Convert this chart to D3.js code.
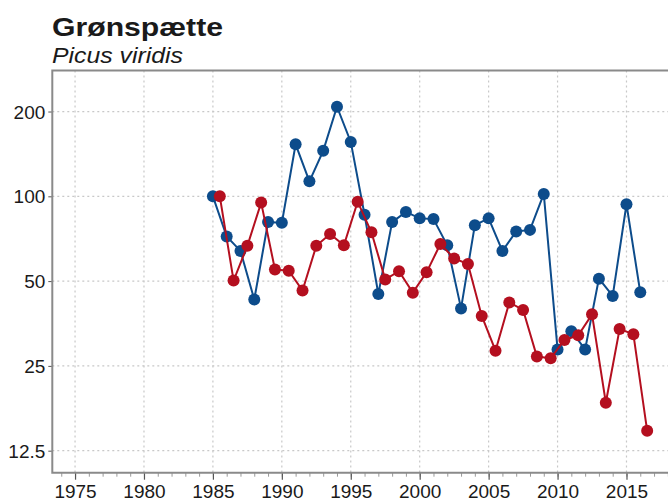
<!DOCTYPE html>
<html>
<head>
<meta charset="utf-8">
<script src="https://cdn.jsdelivr.net/npm/d3@7"></script>
<style>
  body { margin: 0; background: #fff; }
  text { font-family: "Liberation Sans", Arial, sans-serif; fill: #1a1a1a; }
</style>
</head>
<body>
<svg></svg>
<script>
const width = 668
const height = 502

// data
const years = d3.range(1985, 2017)
const blueValues = [100, 72, 64, 43, 81, 80.5, 153, 113, 145, 208, 156, 86, 45, 81, 88, 83.5,
                    83, 67, 40, 79, 83.5, 64, 75, 76, 102, 28.6, 33.2, 28.6, 51, 44.3, 93.7, 45.6]
const redValues = [100, 50.2, 66.7, 95, 55, 54.4, 46.3, 66.7, 73.5, 67, 95.7, 74.5, 50.7, 54.2, 45.5, 53.7,
                   67.7, 60.2, 57.5, 37.6, 28.3, 42, 39.5, 27, 26.6, 30.9, 32.1, 38.1, 18.5, 33.8, 32.4, 14.7]
const redShift = 0.5   // red series is plotted half a year later
const xTicks = [1975, 1980, 1985, 1990, 1995, 2000, 2005, 2010, 2015]
const yTicks = [12.5, 25, 50, 100, 200]
const yTickLabels = ['12.5', '25', '50', '100', '200']

const plotLeft = 52.3, plotTop = 70.5, plotBottom = 472.7, plotRight = 703

let svg = d3.select('svg').attr('width', width).attr('height', height)

let xScale = d3.scaleLinear().domain([1973.35, 2020.55]).range([plotLeft, plotRight])
let yScale = d3.scaleLog().domain([10.44, 279.7]).range([plotBottom, plotTop])

// grid
svg.append('g').selectAll('line')
    .data(xTicks)
    .enter()
    .append('line')
    .attr('x1', d => xScale(d)).attr('x2', d => xScale(d))
    .attr('y1', plotTop).attr('y2', plotBottom)
    .attr('stroke', '#c8c8c8').attr('stroke-width', 1.2).attr('stroke-dasharray', '2,3')

svg.append('g').selectAll('line')
    .data(yTicks)
    .enter()
    .append('line')
    .attr('x1', plotLeft).attr('x2', plotRight)
    .attr('y1', d => yScale(d)).attr('y2', d => yScale(d))
    .attr('stroke', '#c8c8c8').attr('stroke-width', 1.2).attr('stroke-dasharray', '2,3')

// axes
let xAxis = d3.axisBottom(xScale).tickValues(xTicks).tickSize(7).tickPadding(5).tickFormat(d3.format('d'))
let xMinor = d3.axisBottom(xScale).tickValues(d3.range(1974, 2021)).tickSize(4).tickFormat('')
let yAxis = d3.axisLeft(yScale).tickValues(yTicks).tickSize(4).tickPadding(3)
    .tickFormat((d, i) => yTickLabels[i])

svg.append('g').attr('transform', 'translate(0,' + plotBottom + ')').call(xMinor)
    .call(g => g.select('.domain').remove())
    .call(g => g.selectAll('line').attr('stroke', '#999'))

let gx = svg.append('g').attr('id', 'x-axis').attr('transform', 'translate(0,' + plotBottom + ')').call(xAxis)
gx.select('.domain').remove()
gx.selectAll('line').attr('stroke', '#555').attr('stroke-width', 1.2)
gx.selectAll('text').style('font-size', '19px').attr('fill', '#1a1a1a')

let gy = svg.append('g').attr('id', 'y-axis').attr('transform', 'translate(' + plotLeft + ',0)').call(yAxis)
gy.select('.domain').remove()
gy.selectAll('line').attr('stroke', '#555')
gy.selectAll('text').style('font-size', '19px').attr('fill', '#1a1a1a').attr('dy', '0.35em')

// frame
svg.append('path')
    .attr('d', 'M' + plotRight + ',' + plotTop + 'H' + plotLeft + 'V' + plotBottom + 'H' + plotRight)
    .attr('fill', 'none').attr('stroke', '#8a8a8a').attr('stroke-width', 2)

// series
function drawSeries(values, shift, color) {
    let pts = values.map((v, i) => [years[i] + shift, v])
    let line = d3.line().x(d => xScale(d[0])).y(d => yScale(d[1]))
    svg.append('path').datum(pts)
        .attr('d', line)
        .attr('fill', 'none').attr('stroke', color).attr('stroke-width', 2)
    svg.append('g').selectAll('circle')
        .data(pts)
        .enter()
        .append('circle')
        .attr('cx', d => xScale(d[0]))
        .attr('cy', d => yScale(d[1]))
        .attr('r', 6)
        .attr('fill', color)
}

drawSeries(blueValues, 0, '#0d4c8b')
drawSeries(redValues, redShift, '#b40f1f')

// titles
svg.append('text').attr('x', 52).attr('y', 36)
    .attr('textLength', 171).attr('lengthAdjust', 'spacingAndGlyphs')
    .style('font-size', '25px').style('font-weight', 'bold').attr('fill', '#000')
    .text('Grønspætte')
svg.append('text').attr('x', 52).attr('y', 62.5)
    .attr('textLength', 131).attr('lengthAdjust', 'spacingAndGlyphs')
    .style('font-size', '22px').style('font-style', 'italic').attr('fill', '#1a1a1a')
    .text('Picus viridis')
</script>
</body>
</html>
